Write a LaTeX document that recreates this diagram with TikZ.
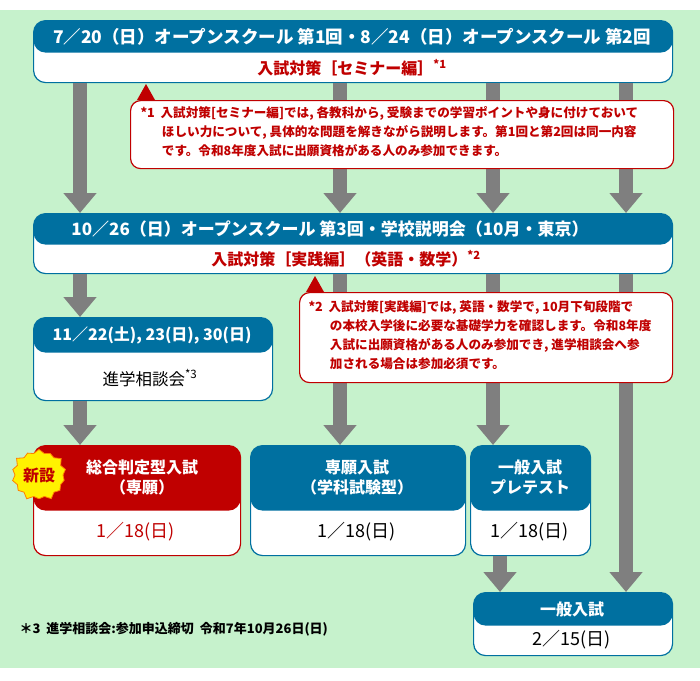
\documentclass[tikz,border=0pt]{standalone}
\usepackage{fontspec}
\setmainfont{Noto Sans CJK JP}
\usetikzlibrary{arrows.meta,shapes.geometric,shapes.misc,shapes.symbols}
\definecolor{bgGreen}{RGB}{198,242,204}
\definecolor{hdrBlue}{RGB}{0,112,160}
\definecolor{hdrRed}{RGB}{192,0,0}
\definecolor{arrGray}{RGB}{127,127,127}
\tikzset{
  bigarrow/.style={draw=arrGray, line width=14pt, -{Triangle[width=32pt,length=20pt]}},
  box/.style={draw=hdrBlue, line width=1.2pt, fill=white, rounded corners=12pt, anchor=north west, inner sep=0pt},
  hdr/.style={fill=hdrBlue},
  note/.style={draw=hdrRed, line width=1.2pt, fill=white, rounded corners=10pt},
  notetxt/.style={anchor=north west, align=left, text=hdrRed, font=\fontsize{12.6}{19}\selectfont\bfseries},
  wtxt/.style={text=white, font=\fontsize{16}{20}\selectfont\bfseries, align=center},
  rtxt/.style={text=hdrRed, font=\fontsize{16}{19}\selectfont\bfseries},
}
\begin{document}
\begin{tikzpicture}[x=1pt,y=-1pt]
  \useasboundingbox (0,0) rectangle (700,680);
  \fill[white] (0,0) rectangle (700,680);
  \fill[bgGreen] (0,10) rectangle (700,668);

  %Boxes
  \node[box, minimum width=639pt, minimum height=62pt,
    path picture={\fill[hdrBlue] (path picture bounding box.north west) rectangle ([yshift=-32pt]path picture bounding box.north east);}]
    (first) at (33,20) {};
  \node[box, minimum width=639pt, minimum height=60pt,
    path picture={\fill[hdrBlue] (path picture bounding box.north west) rectangle ([yshift=-31pt]path picture bounding box.north east);}]
    (second) at (33,213) {};
  \node[box, minimum width=239pt, minimum height=83pt,
    path picture={\fill[hdrBlue] (path picture bounding box.north west) rectangle ([yshift=-35pt]path picture bounding box.north east);}]
    (soudan) at (33,317) {};
  \node[box, draw=hdrRed, minimum width=207pt, minimum height=110pt,
    path picture={\fill[hdrRed] (path picture bounding box.north west) rectangle ([yshift=-65pt]path picture bounding box.north east);}]
    (sougou) at (33,445) {};
  \node[box, minimum width=215pt, minimum height=110pt,
    path picture={\fill[hdrBlue] (path picture bounding box.north west) rectangle ([yshift=-65pt]path picture bounding box.north east);}]
    (sengan) at (250,445) {};
  \node[box, minimum width=120pt, minimum height=110pt,
    path picture={\fill[hdrBlue] (path picture bounding box.north west) rectangle ([yshift=-65pt]path picture bounding box.north east);}]
    (pretest) at (470,445) {};
  \node[box, minimum width=199pt, minimum height=63pt,
    path picture={\fill[hdrBlue] (path picture bounding box.north west) rectangle ([yshift=-33pt]path picture bounding box.north east);}]
    (ippan) at (473,592) {};

  %Arrows
  \draw[bigarrow] (first.south -| 80,0) -- (second.north -| 80,0);
  \draw[bigarrow] (first.south -| 340,0) -- (second.north -| 340,0);
  \draw[bigarrow] (first.south -| 493,0) -- (second.north -| 493,0);
  \draw[bigarrow] (first.south -| 626,0) -- (second.north -| 626,0);
  \draw[bigarrow] (second.south -| 80,0) -- (soudan.north -| 80,0);
  \draw[bigarrow] (soudan.south -| 80,0) -- (sougou.north -| 80,0);
  \draw[bigarrow] (second.south -| 340,0) -- (sengan.north -| 340,0);
  \draw[bigarrow] (second.south -| 493,0) -- (pretest.north -| 493,0);
  \draw[bigarrow] (second.south -| 626,0) -- (ippan.north -| 626,0);
  \draw[bigarrow] (pretest.south -| 500,0) -- (ippan.north -| 500,0);

  %Texts in boxes
  \node[wtxt, font=\fontsize{17.5}{20}\selectfont\bfseries] (firstHdr) at (352,37) {7／20（日）オープンスクール 第1回・8／24（日）オープンスクール 第2回};
  \node[rtxt] (firstSub) at (352,68) {入試対策［セミナー編］\textsuperscript{*1}};
  \node[wtxt, font=\fontsize{17}{20}\selectfont\bfseries] (secondHdr) at (330,229) {10／26（日）オープンスクール 第3回・学校説明会（10月・東京）};
  \node[rtxt] (secondSub) at (346,259) {入試対策［実践編］（英語・数学）\textsuperscript{*2}};
  \node[wtxt] (soudanHdr) at (152,335) {11／22(土), 23(日), 30(日)};
  \node[font=\fontsize{16.5}{19}\selectfont] (soudanSub) at (150,378) {進学相談会\textsuperscript{*3}};
  \node[wtxt] (sougouHdr) at (142,477) {総合判定型入試\\（専願）};
  \node[text=hdrRed, font=\fontsize{18}{19}\selectfont] (sougouDay) at (136,532) {1／18(日)};
  \node[wtxt] (senganHdr) at (357,477) {専願入試\\（学科試験型）};
  \node[font=\fontsize{18}{19}\selectfont] (senganDay) at (357,532) {1／18(日)};
  \node[wtxt] (pretestHdr) at (530,477) {一般入試\\プレテスト};
  \node[font=\fontsize{18}{19}\selectfont] (pretestDay) at (530,532) {1／18(日)};
  \node[wtxt] (ippanHdr) at (572,609) {一般入試};
  \node[font=\fontsize{18}{19}\selectfont] (ippanDay) at (572,640) {2／15(日)};

  %New mark
  \node[starburst, starburst points=14, starburst point height=5pt, fill=yellow, draw=orange, line width=0.8pt,
    minimum width=58pt, minimum height=54pt, inner sep=0pt, text=hdrRed,
    font=\fontsize{16}{19}\selectfont\bfseries] (shinsetsu) at (39,475) {新設};

  %Notes
  \fill[hdrRed] (137,100) -- (146,84) -- (155,100) -- cycle;
  \node[note, anchor=north west, minimum width=543pt, minimum height=68pt] (noteOne) at (130,100) {};
  \node[notetxt] (noteOneTxt) at (137,103) {*1\ \ 入試対策[セミナー編]では, 各教科から, 受験までの学習ポイントや身に付けておいて\\
    \hspace{1.7em}ほしい力について, 具体的な問題を解きながら説明します。第1回と第2回は同一内容\\
    \hspace{1.7em}です。令和8年度入試に出願資格がある人のみ参加できます。};
  \fill[hdrRed] (306,292) -- (315,276) -- (324,292) -- cycle;
  \node[note, anchor=north west, minimum width=373pt, minimum height=90pt] (noteTwo) at (299,292) {};
  \node[notetxt] (noteTwoTxt) at (305,297) {*2\ \ 入試対策[実践編]では, 英語・数学で, 10月下旬段階で\\
    \hspace{1.7em}の本校入学後に必要な基礎学力を確認します。令和8年度\\
    \hspace{1.7em}入試に出願資格がある人のみ参加でき, 進学相談会へ参\\
    \hspace{1.7em}加される場合は参加必須です。};

  %Footnote
  \node[anchor=west, font=\fontsize{13}{14}\selectfont\bfseries] (footThree) at (16,629) {＊3\ \ 進学相談会:参加申込締切\ \ 令和7年10月26日(日)};
\end{tikzpicture}
\end{document}
